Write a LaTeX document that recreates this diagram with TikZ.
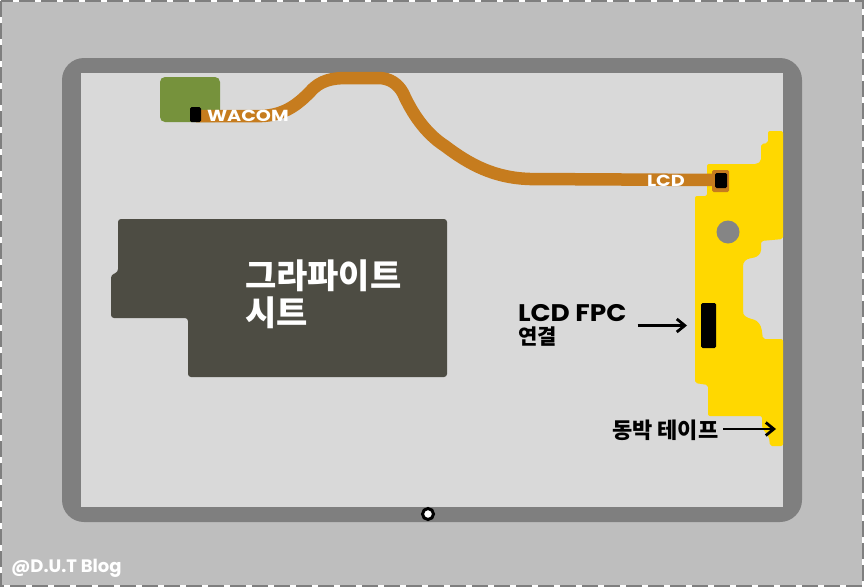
\documentclass[tikz,border=0pt]{standalone}
\usepackage{fontspec}
\setmainfont{Poppins}
\newfontfamily\widefont[FakeStretch=1.2]{Poppins}
\newfontfamily\halfwidefont[FakeStretch=1.1]{Poppins}
\newfontfamily\krfont{Noto Sans CJK KR}
\usepackage{tikz}
\usetikzlibrary{arrows.meta,positioning}

\definecolor{casegray}{HTML}{BEBEBE}
\definecolor{framegray}{HTML}{7F7F7F}
\definecolor{panelgray}{HTML}{D9D9D9}
\definecolor{flexorange}{HTML}{C67C1E}
\definecolor{tapeyellow}{HTML}{FFD800}
\definecolor{sheetgray}{HTML}{4D4C43}
\definecolor{padgreen}{HTML}{76923C}

\begin{document}
\begin{tikzpicture}[
  x=1pt, y=-1pt,
  conn/.style={fill=black, rounded corners=1.5pt, inner sep=0pt, outer sep=0pt},
  arr/.style={-{Straight Barb[length=8pt,width=13pt,line width=2.8pt]}, line width=2.8pt},
  flex/.style={draw=flexorange, line width=12.5pt, line join=round},
  lbl/.style={inner sep=0pt, outer sep=0pt, align=left},
]
  \useasboundingbox (0,0) rectangle (864,587);
  % case and panel
  \fill[casegray] (0,0) rectangle (864,587);
  \draw[white, line width=2pt] (1,1) rectangle (863,586);
  \draw[framegray, line width=2pt, dash pattern=on 16pt off 6pt] (1,1) rectangle (863,586);
  \fill[framegray, rounded corners=22pt] (62,58) rectangle (802,522);
  \fill[panelgray] (81,73) rectangle (783,507);

  % graphite sheet
  \fill[sheetgray, rounded corners=3pt] (118,219) -- (447,219) -- (447,377) -- (188,377)
    -- (188,318) -- (111,318) -- (111,275) -- (118,272) -- cycle;
  \node[lbl, anchor=west, text=white, font=\krfont\bfseries\fontsize{34}{37}\selectfont] (sheetlabel) at (245,294.5)
    {그라파이트\\시트};

  % copper tape
  \fill[tapeyellow, rounded corners=2pt] (768,131) -- (783,131) -- (783,239) -- (761,241) -- (761,248)
    .. controls (761,254) and (757,257) .. (752,258) .. controls (746,259) and (743,262) .. (743,268)
    -- (743,312) .. controls (744,316) and (748,318) .. (752,319) .. controls (758,321) and (761,325) .. (762,332)
    -- (763,339) -- (783,339) -- (783,446) -- (770,446) -- (769,437) -- (762,428) -- (762,416) -- (708,416)
    -- (708,385) -- (695,383) -- (695,196) -- (707,196) -- (707,164) -- (757,164) -- (761,161) -- (761,144)
    -- (768,143) -- cycle;
  \fill[framegray!95!white] (728,232) circle (11.5);

  % wacom pad, flex and connectors
  \fill[padgreen, rounded corners=5pt] (160,77) rectangle (220,122);
  \coordinate (wacomend) at (196,116);
  \coordinate (lcdend) at (715,180);
  \draw[flex] (wacomend) -- (262,116)
    .. controls (285,115) and (298,104) .. (310,92)
    .. controls (320,80) and (333,78) .. (347,78)
    -- (378,78)
    .. controls (390,78) and (398,84) .. (403,93)
    .. controls (412,113) and (425,133) .. (445,146)
    .. controls (470,165) and (495,178) .. (530,179)
    -- (lcdend);
  \node[conn, minimum width=17pt, minimum height=22pt, fill=flexorange] (lcdconn) at (720.5,181) {};
  \node[conn, minimum width=12pt, minimum height=15pt] (lcdchip) at (721,180.5) {};
  \node[conn, minimum width=11pt, minimum height=15pt] (wacomchip) at (195.5,114.5) {};
  \node[conn, minimum width=15pt, minimum height=45pt] (fpc) at (708.5,325.5) {};
  \node[lbl, anchor=west, text=white, font=\widefont\bfseries\fontsize{16}{16}\selectfont] (wacomlabel) at (207,116) {WACOM};
  \node[lbl, anchor=west, text=white, font=\widefont\bfseries\fontsize{16}{16}\selectfont] (lcdlabel) at (647,180.5) {LCD};

  % labels and arrows
  \node[lbl, anchor=west, font=\halfwidefont\bfseries\fontsize{24}{26}\selectfont] (fpclabel) at (518,313) {LCD FPC};
  \node[lbl, anchor=west, font=\krfont\bfseries\fontsize{21}{22}\selectfont] (fpcsub) at (518,337) {연결};
  \node[lbl, anchor=west, font=\krfont\bfseries\fontsize{22}{24}\selectfont] (tapelabel) at (612,430) {동박 테이프};
  \coordinate (tapeend) at (776,429);
  \draw[arr, shorten <=11pt, shorten >=14pt] (fpclabel.east |- fpc.west) -- (fpc.west);
  \draw[arr, shorten <=5pt] (tapelabel.east |- tapeend) -- (tapeend);

  % power button
  \node[circle, draw=black, fill=white, line width=3pt, minimum size=11pt, inner sep=0pt] (button) at (428,514) {};
  \node[lbl, anchor=west, text=white, font=\fontsize{18}{20}\selectfont\bfseries] (bloglabel) at (11,568) {@D.U.T Blog};
\end{tikzpicture}
\end{document}
